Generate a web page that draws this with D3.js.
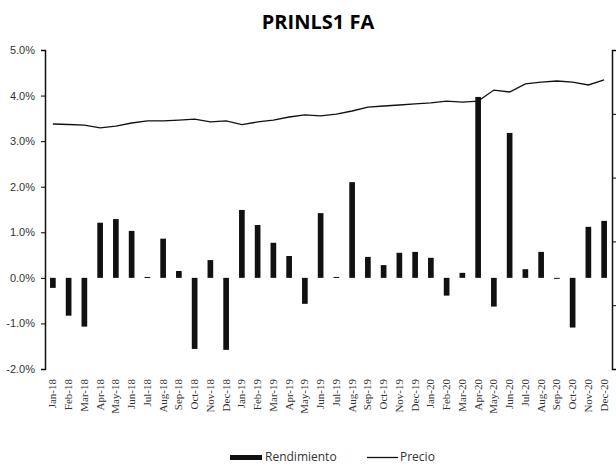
<!DOCTYPE html>
<html lang="en">
<head>
<meta charset="utf-8">
<title>PRINLS1 FA</title>
<script src="https://d3js.org/d3.v7.min.js"></script>
<style>
  body { margin: 0; background: #fff; }
  svg { display: block; }
</style>
</head>
<body>
<script>
// data
var months = ["Jan-18","Feb-18","Mar-18","Apr-18","May-18","Jun-18","Jul-18","Aug-18","Sep-18","Oct-18","Nov-18","Dec-18",
              "Jan-19","Feb-19","Mar-19","Apr-19","May-19","Jun-19","Jul-19","Aug-19","Sep-19","Oct-19","Nov-19","Dec-19",
              "Jan-20","Feb-20","Mar-20","Apr-20","May-20","Jun-20","Jul-20","Aug-20","Sep-20","Oct-20","Nov-20","Dec-20"];

// Rendimiento, monthly return in %
var rendimiento = [-0.22, -0.83, -1.07, 1.21, 1.29, 1.03, 0.02, 0.86, 0.15, -1.56, 0.39, -1.58,
                   1.49, 1.16, 0.77, 0.48, -0.57, 1.42, 0.02, 2.10, 0.46, 0.28, 0.55, 0.57,
                   0.44, -0.39, 0.11, 3.97, -0.63, 3.18, 0.19, 0.57, -0.02, -1.09, 1.12, 1.25];

// Precio, right axis (its labels are cut off in the original)
var precio = [1.920, 1.916, 1.912, 1.889, 1.904, 1.928, 1.944, 1.944, 1.951, 1.959, 1.936, 1.944,
              1.916, 1.936, 1.951, 1.975, 1.991, 1.983, 1.998, 2.022, 2.053, 2.061, 2.069, 2.077,
              2.085, 2.100, 2.092, 2.100, 2.186, 2.171, 2.234, 2.249, 2.257, 2.249, 2.226, 2.265];

var leftTicks = [-2, -1, 0, 1, 2, 3, 4, 5];
var rightTicks = [0, 0.5, 1.0, 1.5, 2.0, 2.5];

var W = 616, H = 466;
var plotL = 45, plotR = 612, plotT = 50, plotB = 369;

var svg = d3.select("body").append("svg")
    .attr("width", W)
    .attr("height", H)
    .style("font-family", "'Liberation Serif', serif");

svg.append("text")
    .attr("x", 318)
    .attr("y", 29)
    .attr("text-anchor", "middle")
    .style("font-family", "'Open Sans', sans-serif")
    .style("font-weight", "bold")
    .style("font-size", "20px")
    .text("PRINLS1 FA");

var x = d3.scaleBand().domain(months).range([plotL, plotR]).paddingInner(0.64).paddingOuter(0.32);
var y = d3.scaleLinear().domain([-2, 5]).range([plotB, plotT]);
var y2 = d3.scaleLinear().domain([0, 2.5]).range([plotB, plotT]);

// bars
svg.append("g").selectAll("rect")
  .data(rendimiento)
  .enter()
  .append("rect")
    .attr("x", (d, i) => x(months[i]))
    .attr("y", d => y(Math.max(0, d)))
    .attr("width", x.bandwidth())
    .attr("height", d => Math.max(1, Math.abs(y(d) - y(0))))
    .attr("fill", "#111");

// price line
var line = d3.line()
    .x((d, i) => x(months[i]) + x.bandwidth() / 2)
    .y(d => y2(d));

svg.append("path")
    .datum(precio)
    .attr("d", line)
    .attr("fill", "none")
    .attr("stroke", "#111")
    .attr("stroke-width", 1.3);

// left axis
var yAxis = svg.append("g")
    .attr("transform", "translate(" + plotL + ",0)")
    .call(d3.axisLeft(y).tickValues(leftTicks).tickSize(4).tickFormat(d => d.toFixed(1) + "%"));
yAxis.select(".domain").attr("stroke", "#111").attr("stroke-width", 1.5);
yAxis.selectAll("text").style("font-size", "11px").attr("fill", "#333").attr("dx", "-3");

// right axis, labels are off the edge in the original so none drawn
var y2Axis = svg.append("g")
    .attr("transform", "translate(" + plotR + ",0)")
    .call(d3.axisRight(y2).tickValues(rightTicks).tickSize(4).tickFormat(""));
y2Axis.select(".domain").attr("stroke", "#111").attr("stroke-width", 1.5);

// month labels
svg.append("g").selectAll("text")
  .data(months)
  .enter()
  .append("text")
    .attr("transform", d => "translate(" + (x(d) + x.bandwidth() / 2 + 3.5) + ",379) rotate(-90)")
    .attr("text-anchor", "end")
    .style("font-size", "11px")
    .attr("fill", "#333")
    .text(d => d);

// legend
var lg = svg.append("g").style("font-family", "'Open Sans', sans-serif").style("font-size", "12px");
lg.append("rect").attr("x", 230).attr("y", 455).attr("width", 32).attr("height", 5).attr("fill", "#111");
lg.append("text").attr("x", 265).attr("y", 461).attr("fill", "#333").text("Rendimiento");
lg.append("line").attr("x1", 367).attr("x2", 398).attr("y1", 457.5).attr("y2", 457.5).attr("stroke", "#111").attr("stroke-width", 1.3);
lg.append("text").attr("x", 400).attr("y", 461).attr("fill", "#333").text("Precio");
</script>
</body>
</html>
